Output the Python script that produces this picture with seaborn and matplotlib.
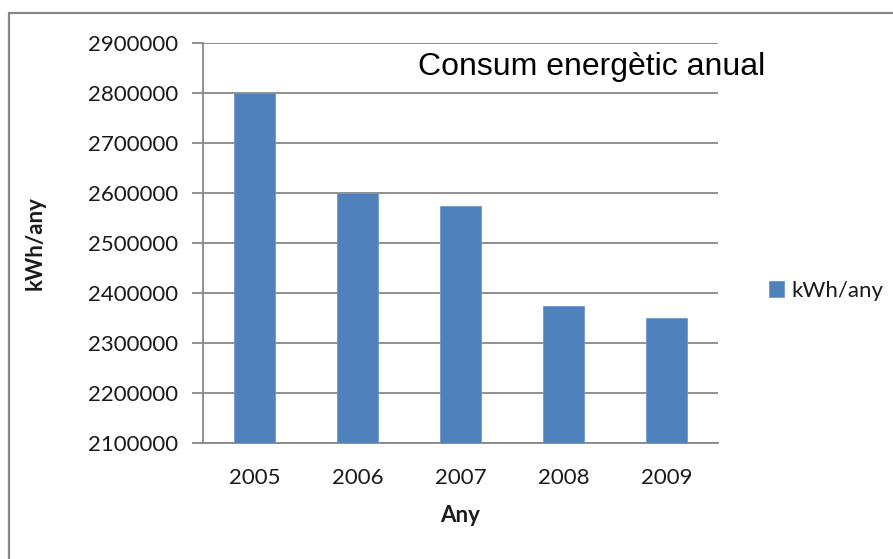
import matplotlib
matplotlib.use("Agg")
import matplotlib.pyplot as plt
from matplotlib.lines import Line2D
import seaborn as sns
import pandas as pd

years = ["2005", "2006", "2007", "2008", "2009"]
consumption = [2800000, 2600000, 2575000, 2375000, 2350000]
y_ticks = [2100000, 2200000, 2300000, 2400000, 2500000, 2600000, 2700000, 2800000, 2900000]

sns.set_theme(style="white")
plt.rcParams["font.family"] = ["Lato", "DejaVu Sans"]

W, H = 893, 559
fig = plt.figure(figsize=(W / 100, H / 100), dpi=100)
ax = fig.add_axes([203 / W, 1 - 443 / H, (718 - 203) / W, (443 - 43) / H])

df = pd.DataFrame({"Any": years, "kWh/any": consumption})
sns.barplot(data=df, x="Any", y="kWh/any", color="#4F81BD", width=0.39,
            saturation=1, edgecolor="#6E98CB", linewidth=0.6, ax=ax,
            label="kWh/any", zorder=3)

grid_c = "#878787"
ax.set_ylim(2100000, 2900000)
ax.set_yticks(y_ticks)
ax.set_yticklabels([str(v) for v in y_ticks])
ax.grid(axis="y", color=grid_c, linewidth=1.3, zorder=0)
ax.set_axisbelow(True)
for s in ["top", "right"]:
    ax.spines[s].set_visible(False)
for s in ["left", "bottom"]:
    ax.spines[s].set_color(grid_c)
    ax.spines[s].set_linewidth(1.3)
ax.tick_params(axis="y", which="major", length=8, width=1.3, color=grid_c,
               labelsize=16, labelcolor="#1a1a1a", pad=10, left=True)
ax.tick_params(axis="x", length=0, labelsize=16, labelcolor="#1a1a1a", pad=18)

ax.set_xlabel("Any", fontsize=16, fontweight="bold", color="#1a1a1a", labelpad=12)
ax.set_ylabel("kWh/any", fontsize=16, fontweight="bold", color="#1a1a1a")
ax.yaxis.set_label_coords(-0.305, 0.5)

ax.legend(loc="center left", bbox_to_anchor=(1.06, 0.38), frameon=False,
          fontsize=16, handlelength=0.7, handleheight=0.7, handletextpad=0.3,
          labelcolor="#1a1a1a")

fig.text(418 / W, 1 - 67 / H, "Consum energètic anual", fontsize=23,
         family=["Liberation Sans", "DejaVu Sans"], color="black", va="center", ha="left")

# chart frame, top and left edges
fig.add_artist(Line2D([9 / W, 1], [1 - 13 / H, 1 - 13 / H], color=grid_c, linewidth=1.6,
                      transform=fig.transFigure))
fig.add_artist(Line2D([9 / W, 9 / W], [0, 1 - 13 / H], color=grid_c, linewidth=1.6,
                      transform=fig.transFigure))

fig.savefig("out.png", dpi=100)
